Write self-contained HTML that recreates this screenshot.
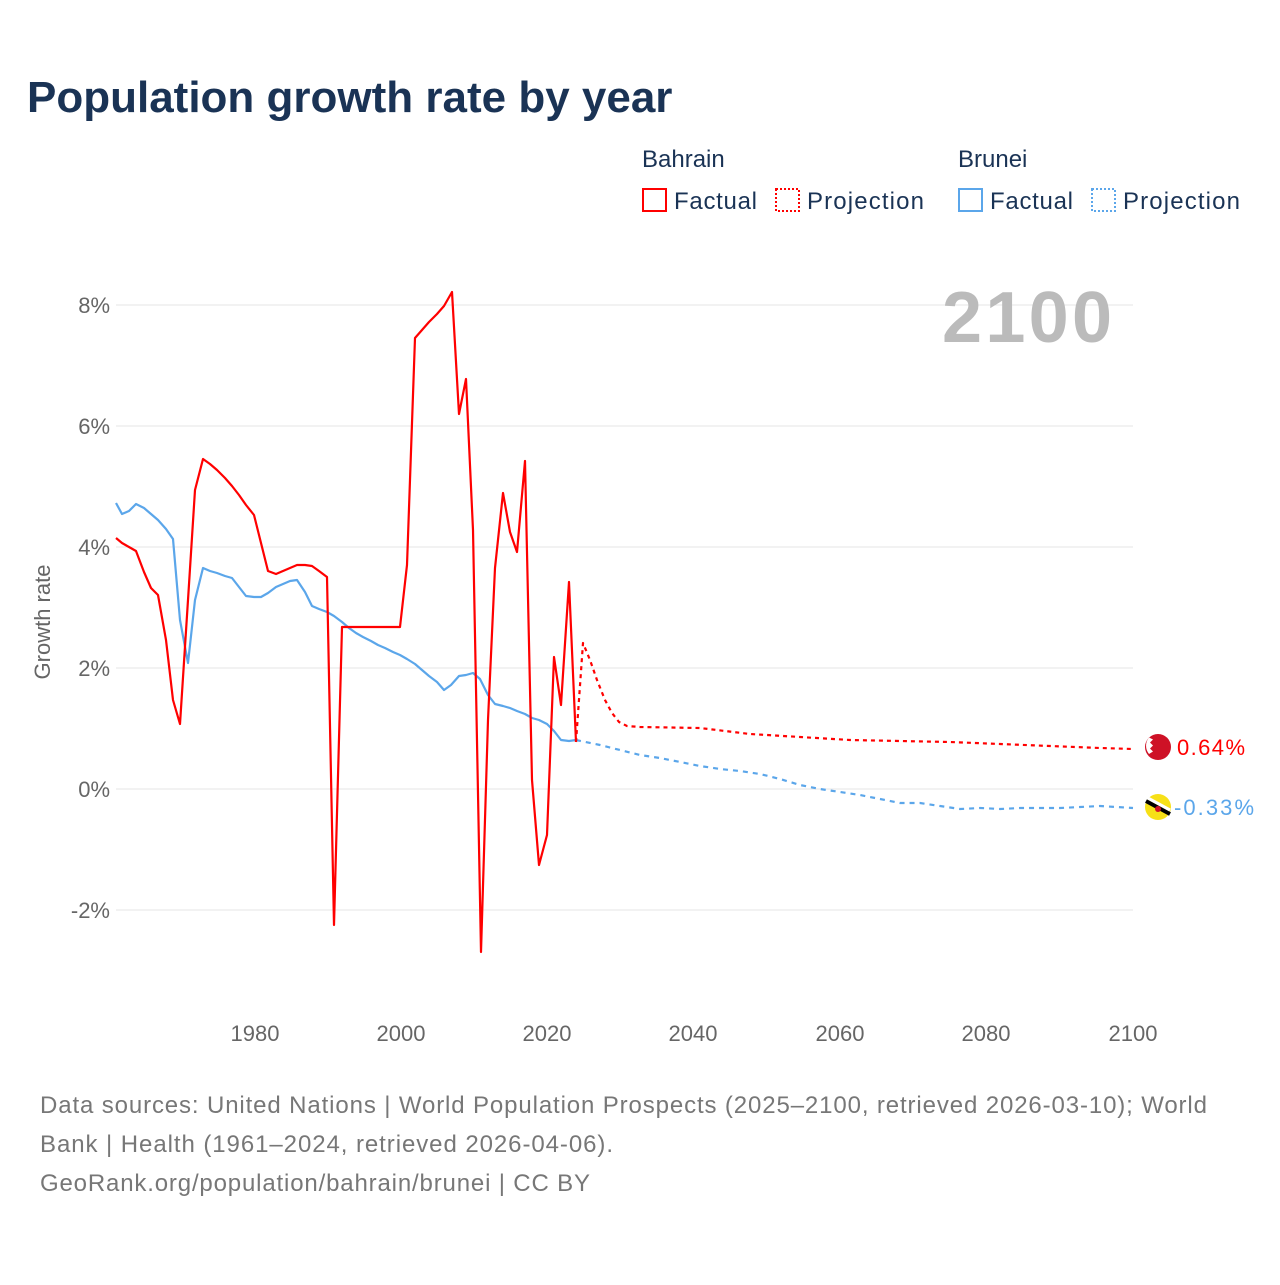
<!DOCTYPE html>
<html><head><meta charset="utf-8"><style>
body{margin:0;background:#fff;width:1280px;height:1280px;overflow:hidden;font-family:"Liberation Sans",sans-serif}
</style></head><body>
<svg width="1280" height="1280" viewBox="0 0 1280 1280" xmlns="http://www.w3.org/2000/svg" font-family="Liberation Sans, sans-serif">
<text x="27" y="112" font-size="44" font-weight="bold" fill="#1a3355">Population growth rate by year</text>
<g font-size="24" fill="#1a3355">
<text x="642" y="167">Bahrain</text><text x="958" y="167">Brunei</text>
<rect x="643" y="189" width="23" height="22" fill="none" stroke="#f00" stroke-width="2"/><text x="674" y="209" textLength="83">Factual</text>
<rect x="776" y="189" width="23" height="22" fill="none" stroke="#f00" stroke-width="2" stroke-dasharray="2 2"/><text x="807" y="209" textLength="117">Projection</text>
<rect x="959" y="189" width="23" height="22" fill="none" stroke="#5ba6ea" stroke-width="2"/><text x="990" y="209" textLength="83">Factual</text>
<rect x="1092" y="189" width="23" height="22" fill="none" stroke="#5ba6ea" stroke-width="2" stroke-dasharray="2 2"/><text x="1123" y="209" textLength="117">Projection</text>
</g>
<g stroke="#e6e6e6" stroke-width="1">
<line x1="116" x2="1133" y1="305" y2="305"/><line x1="116" x2="1133" y1="426" y2="426"/><line x1="116" x2="1133" y1="547" y2="547"/><line x1="116" x2="1133" y1="668" y2="668"/><line x1="116" x2="1133" y1="789" y2="789"/><line x1="116" x2="1133" y1="910" y2="910"/>
</g>
<g font-size="22" fill="#666" text-anchor="end">
<text x="110" y="313">8%</text><text x="110" y="434">6%</text><text x="110" y="555">4%</text><text x="110" y="676">2%</text><text x="110" y="797">0%</text><text x="110" y="918">-2%</text>
</g>
<g font-size="22" fill="#666" text-anchor="middle">
<text x="255" y="1041">1980</text><text x="401" y="1041">2000</text><text x="547" y="1041">2020</text><text x="693" y="1041">2040</text><text x="840" y="1041">2060</text><text x="986" y="1041">2080</text><text x="1133" y="1041">2100</text>
</g>
<text transform="translate(50,622) rotate(-90)" font-size="22" fill="#666" text-anchor="middle">Growth rate</text>
<text x="1112" y="342" font-size="72" font-weight="bold" fill="#bbb" text-anchor="end" textLength="170">2100</text>
<g fill="none" stroke-width="2.2" stroke-linejoin="round">
<polyline stroke="#5ba6ea" points="116,503 122,514 129,511 136,504 144,508 151,514 158,520 166,529 173,539 180,620 188,663 195,600 203,568 210,571 217,573 225,576 232,578 239,587 246,596 254,597 261,597 268,593 276,587 283,584 290,581 297,580 305,592 312,606 319,609 327,612 334,616 342,622 349,628 356,633 363,637 371,641 378,645 385,648 393,652 400,655 407,659 415,664 422,670 429,676 437,682 444,690 451,685 459,676 466,675 473,673 480,679 488,695 495,704 503,706 510,708 517,711 525,714 532,718 539,720 547,724 554,731 561,740 569,741 576,740"/>
<polyline stroke="#5ba6ea" stroke-dasharray="5 5" points="576,740 600,745 620,750 640,755 660,758 680,762 700,766 720,769 740,771 760,774 780,779 800,785 820,789 840,792 860,795 880,799 900,803 920,803 940,806 960,809 980,808 1000,809 1020,808 1040,808 1060,808 1080,807 1100,806 1133,808"/>
<polyline stroke="#f00" points="116,538 122,543 129,547 136,551 144,572 151,588 158,595 166,640 173,700 180,724 188,600 195,490 203,459 210,464 217,470 225,478 232,486 239,495 246,505 254,515 261,543 268,571 276,574 283,571 290,568 297,565 305,565 312,566 319,571 327,577 334,925 342,627 400,627 407,565 415,338 422,330 429,322 437,314 444,306 452,292 459,414 466,379 473,530 481,952 488,720 495,568 503,493 510,532 517,552 525,461 532,780 539,865 547,835 554,657 561,705 569,582 576,742"/>
<polyline stroke="#f00" stroke-dasharray="4 4" points="576,742 583,643 590,660 597,680 605,700 612,713 619,722 627,726 640,727 700,728 750,734 800,737 850,740 900,741 950,742 1000,744 1050,746 1100,748 1133,749"/>
</g>
<circle cx="1158" cy="747" r="13" fill="#ce1126"/><path d="M1149,737.5 l4,2 -3,3 3,3 -3,3 3,3 -4,2.5 a13,13 0 0 1 0,-16.5z" fill="#fff"/>
<circle cx="1158" cy="807" r="13" fill="#f7e017"/><path d="M1146,801 L1170,814" stroke="#000" stroke-width="4"/><path d="M1146,797 L1170,810" stroke="#fff" stroke-width="3"/><circle cx="1158" cy="809" r="3" fill="#cf1126"/>
<text x="1177" y="755" font-size="22" fill="#f00" textLength="68">0.64%</text>
<text x="1174" y="815" font-size="22" fill="#5ba6ea" textLength="80">-0.33%</text>
<g font-size="24" fill="#777">
<text x="40" y="1113" textLength="1167">Data sources: United Nations | World Population Prospects (2025–2100, retrieved 2026-03-10); World</text>
<text x="40" y="1152" textLength="573">Bank | Health (1961–2024, retrieved 2026-04-06).</text>
<text x="40" y="1191" textLength="550">GeoRank.org/population/bahrain/brunei | CC BY</text>
</g>
</svg>
</body></html>
